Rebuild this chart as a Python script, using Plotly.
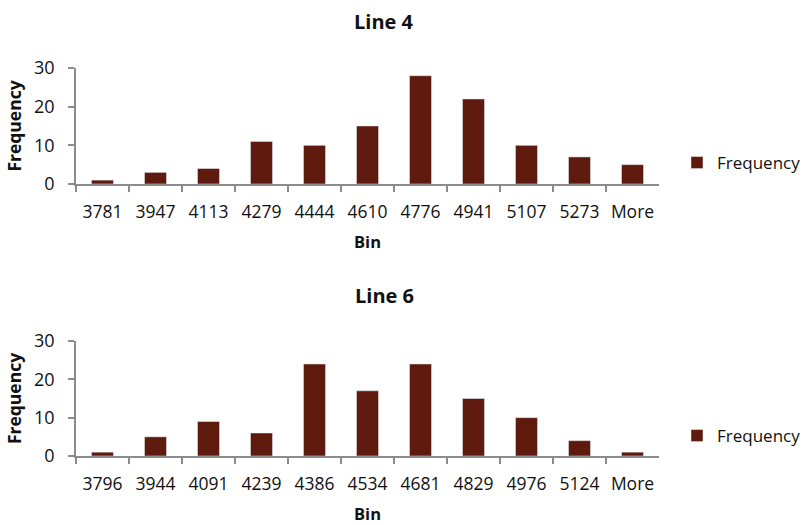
import plotly.graph_objects as go

# Histogram bins and counts for the two production lines
line4_bins = ["3781", "3947", "4113", "4279", "4444", "4610", "4776", "4941", "5107", "5273", "More"]
line4_freq = [1, 3, 4, 11, 10, 15, 28, 22, 10, 7, 5]

line6_bins = ["3796", "3944", "4091", "4239", "4386", "4534", "4681", "4829", "4976", "5124", "More"]
line6_freq = [1, 5, 9, 6, 24, 17, 24, 15, 10, 4, 1]

y_ticks = [0, 10, 20, 30]

BAR = "#5E1A0C"
AXIS = "#8C8C8C"
TXT = "#111111"
FONT = "'Open Sans', Lato, sans-serif"

W, H = 803, 525
x0, x1 = 76 / W, 659 / W
top_dom = [1 - 184 / H, 1 - 68 / H]
bot_dom = [1 - 456 / H, 1 - 341 / H]

fig = go.Figure()
fig.add_trace(go.Bar(x=line4_bins, y=line4_freq, name="Frequency", marker_color=BAR,
                     xaxis="x", yaxis="y", legend="legend", showlegend=True))
fig.add_trace(go.Bar(x=line6_bins, y=line6_freq, name="Frequency", marker_color=BAR,
                     xaxis="x2", yaxis="y2", legend="legend2", showlegend=True))

xcommon = dict(type="category", showline=True, linecolor=AXIS, linewidth=1.5, automargin=False,
               ticks="outside", tickson="boundaries", ticklen=6, tickcolor=AXIS, tickwidth=1.5,
               showgrid=False, zeroline=False, tickfont=dict(size=17.5, color=TXT),
               tickangle=0, ticklabelstandoff=11,
               title=dict(text="<b>Bin</b>", font=dict(size=16.5, color=TXT), standoff=15))
ycommon = dict(range=[0, 30], tickvals=y_ticks, showline=True, linecolor=AXIS, linewidth=1.5,
               automargin=False,
               ticks="outside", ticklen=6, tickcolor=AXIS, tickwidth=1.5, showgrid=False,
               zeroline=False, tickfont=dict(size=18, color=TXT), ticklabelstandoff=10,
               title=dict(text="<b>Frequency</b>", font=dict(size=17.5, color=TXT), standoff=8))

legend_style = dict(xanchor="left", yanchor="middle", itemwidth=30,
                    font=dict(size=17, color=TXT), bgcolor="rgba(0,0,0,0)")

fig.update_layout(
    width=W, height=H,
    margin=dict(l=0, r=0, t=0, b=0, autoexpand=False),
    paper_bgcolor="white", plot_bgcolor="white",
    font=dict(family=FONT, color=TXT),
    bargap=0.585,
    showlegend=True,
    xaxis=dict(domain=[x0, x1], anchor="y", **xcommon),
    yaxis=dict(domain=top_dom, anchor="x", **ycommon),
    xaxis2=dict(domain=[x0, x1], anchor="y2", **xcommon),
    yaxis2=dict(domain=bot_dom, anchor="x2", **ycommon),
    legend=dict(x=677 / W, y=1 - 163 / H, **legend_style),
    legend2=dict(x=677 / W, y=1 - 436 / H, **legend_style),
    annotations=[
        dict(text="<b>Line 4</b>", x=384 / W, y=1 - 22 / H, xref="paper", yref="paper",
             xanchor="center", yanchor="middle", showarrow=False,
             font=dict(size=20, color=TXT)),
        dict(text="<b>Line 6</b>", x=384 / W, y=1 - 295 / H, xref="paper", yref="paper",
             xanchor="center", yanchor="middle", showarrow=False,
             font=dict(size=20, color=TXT)),
    ],
)

fig.write_html("out.html")
